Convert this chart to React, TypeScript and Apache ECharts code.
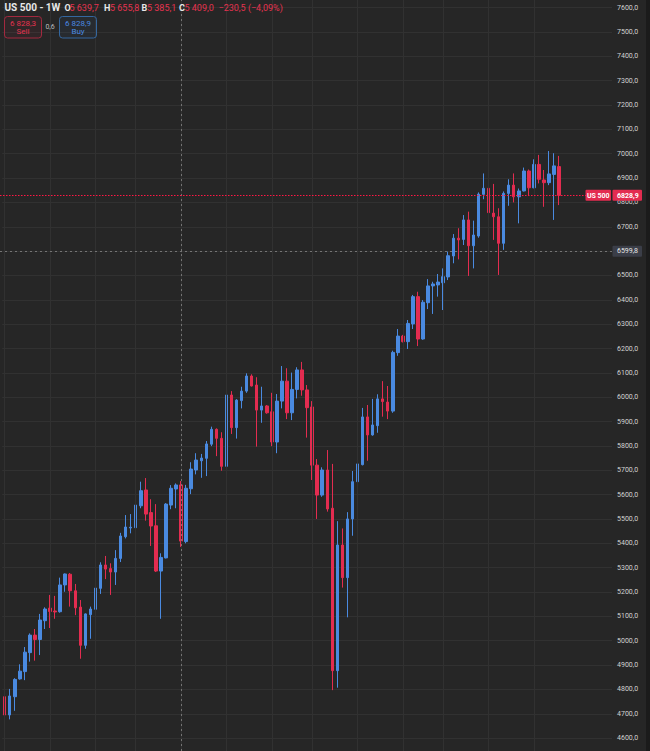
import React, { useEffect, useRef } from "react";
import * as echarts from "echarts";

// Weekly OHLC (US 500, 1W)
const opens = [
  4770, 4695, 4770, 4843, 4873, 4951, 5023, 5005, 5082,
  5134, 5122, 5119, 5229, 5273, 5205, 5138, 4981, 5107, 5129,
  5215, 5311, 5296, 5282, 5338, 5427, 5463, 5464, 5554, 5619,
  5526, 5472, 5286, 5340, 5557, 5623, 5639.7, 5407, 5624, 5701,
  5739, 5749, 5807, 5868, 5831, 5716, 6009, 5875, 5986, 6025,
  6087, 6050, 5947, 5964, 5940, 5816, 5984, 6066, 5936, 6032,
  6112, 6030, 5960, 5721, 5598, 5701, 5544, 4877, 5393, 5259,
  5500, 5653, 5723, 5919, 5845, 5883, 5993, 5980, 5943, 6183,
  6251, 6228, 6301, 6413, 6239, 6388, 6457, 6461, 6470, 6494,
  6580, 6653, 6648, 6728, 6622, 6662, 6833, 6858, 6756, 6741,
  6632, 6837, 6871, 6823, 6847, 6929, 6860, 6956, 6892, 6881,
  6915, 6947,
];
const closes = [
  4695, 4773, 4841, 4875, 4953, 5023, 5005, 5085, 5130,
  5120, 5118, 5229, 5274, 5205, 5135, 4981, 5110, 5130, 5216,
  5311, 5294, 5282, 5338, 5430, 5467, 5466, 5557, 5616, 5520,
  5471, 5286, 5342, 5561, 5626, 5639.5, 5409.0, 5626, 5705, 5742,
  5750, 5808, 5868, 5831, 5716, 6009, 5875, 5988, 6025, 6087,
  6046, 5947, 5964, 5936, 5816, 5984, 6066, 5936, 6032, 6112,
  6030, 5957, 5721, 5598, 5701, 5541, 4877, 5393, 5259, 5500,
  5653, 5726, 5919, 5845, 5886, 5993, 5982, 5943, 6184, 6251,
  6228, 6303, 6413, 6239, 6390, 6457, 6465, 6473, 6495, 6581,
  6653, 6646, 6728, 6622, 6666, 6834, 6858, 6758, 6741, 6632,
  6837, 6871, 6823, 6847, 6929, 6860, 6956, 6895, 6881, 6917,
  6950, 6828.9,
];
const lows = [
  4661, 4677, 4712, 4840, 4838, 4914, 4918, 4941, 5048,
  5052, 5090, 5115, 5201, 5140, 5105, 4926, 4967, 5008, 5125,
  5192, 5253, 5188, 5229, 5323, 5420, 5441, 5443, 5544, 5493,
  5389, 5282, 5090, 5338, 5540, 5544, 5385.1, 5400, 5602, 5683,
  5669, 5676, 5799, 5758, 5698, 5693, 5849, 5830, 5954, 6018,
  6044, 5797, 5895, 5932, 5799, 5770, 5954, 5910, 5906, 5995,
  6006, 5834, 5660, 5500, 5591, 5530, 4797, 4807, 5218, 5096,
  5431, 5575, 5720, 5739, 5842, 5854, 5920, 5910, 5936, 6170,
  6225, 6198, 6280, 6210, 6236, 6362, 6342, 6413, 6358, 6481,
  6550, 6566, 6625, 6498, 6529, 6655, 6813, 6625, 6646, 6502,
  6605, 6786, 6800, 6714, 6845, 6826, 6858, 6878, 6782, 6871,
  6728, 6789,
];
const highs = [
  4781, 4802, 4846, 4903, 4974, 5030, 5048, 5110, 5137,
  5188, 5184, 5259, 5276, 5278, 5233, 5167, 5112, 5140, 5236,
  5322, 5348, 5318, 5372, 5443, 5516, 5520, 5568, 5653, 5668,
  5581, 5561, 5359, 5565, 5639, 5646, 5655.8, 5640, 5733, 5770,
  5767, 5820, 5879, 5872, 5856, 6012, 6025, 5992, 6043, 6098,
  6094, 6082, 6043, 5968, 6018, 6013, 6128, 6119, 6101, 6123,
  6145, 6050, 5984, 5746, 5712, 5783, 5726, 5491, 5461, 5528,
  5697, 5738, 5956, 5968, 5993, 6012, 6066, 6046, 6191, 6280,
  6256, 6317, 6420, 6433, 6399, 6485, 6474, 6506, 6529, 6598,
  6670, 6694, 6748, 6762, 6725, 6841, 6919, 6878, 6876, 6776,
  6845, 6895, 6919, 6857, 6943, 6935, 6977, 6995, 6933, 7011,
  7002, 6991,
];
const emptyWeeksRight = 10;
const gridWeeks = [0, 9, 18, 26, 35, 44, 53, 61, 70, 79, 87, 96, 105];
const hoveredWeek = 35;
const crosshairPrice = 6599.8;
const bidPrice = 6828.3;
const askPrice = 6828.9;
const symbolName = "US 500";
const title = "US 500 - 1W";
const priceMin = 4600;
const priceMax = 7600;
const priceStep = 100;

const BG = "#262626";
const GRID = "#313131";
const UP = "#4a8ae0";
const DOWN = "#e32c50";
const TXT = "#d2d2d2";
const CROSS = "#747474";
const FONT = "Roboto, 'Noto Sans', sans-serif";

const fmt = (v: number, group = true) => {
  const s = Math.abs(v).toFixed(1);
  const [i, d] = s.split(".");
  const g = group ? i.replace(/\B(?=(\d{3})+(?!\d))/g, " ") : i;
  return (v < 0 ? "−" : "") + g + "," + d;
};

export default function App() {
  const ref = useRef<HTMLDivElement>(null);
  useEffect(() => {
    document.body.style.margin = "0";
    document.body.style.background = BG;
    if (!ref.current) return;
    const chart = echarts.init(ref.current, undefined, { renderer: "svg" });

    const total = opens.length + emptyWeeksRight;
    const weeks = Array.from({ length: total }, (_, i) => String(i));
    const candles: any[] = opens.map((o, i) => [o, closes[i], lows[i], highs[i]]);
    for (let k = 0; k < emptyWeeksRight; k++) candles.push("-");
    const lastPrice = closes[closes.length - 1];

    const hiddenX = {
      type: "category",
      data: weeks,
      boundaryGap: true,
      axisLine: { show: false },
      axisTick: { show: false },
      axisLabel: { show: false },
      splitLine: { show: false },
    };

    const lineSeries = (xi: number, z: number, lineStyle: any, data: any[]) => ({
      type: "line",
      xAxisIndex: xi,
      yAxisIndex: xi,
      data: [],
      z,
      silent: true,
      markLine: {
        silent: true,
        symbol: "none",
        label: { show: false },
        emphasis: { disabled: true },
        lineStyle,
        data,
      },
    });

    chart.setOption({
      animation: false,
      backgroundColor: BG,
      grid: [
        { left: 2.18, right: 37.98, top: 7.6, bottom: 12.9 },
        { left: 2.18, right: 37.98, top: 0, bottom: 0 },
      ],
      xAxis: [
        { ...hiddenX, gridIndex: 0 },
        { ...hiddenX, gridIndex: 1 },
      ],
      yAxis: [
        {
          type: "value",
          gridIndex: 0,
          position: "right",
          min: priceMin,
          max: priceMax,
          interval: priceStep,
          axisLine: { show: false },
          axisTick: { show: false },
          splitLine: { show: true, lineStyle: { color: GRID, width: 1 } },
          axisLabel: {
            color: TXT,
            fontSize: 7,
            fontFamily: FONT,
            margin: 5,
            formatter: (v: number) => fmt(v, false),
          },
        },
        { type: "value", gridIndex: 1, min: 0, max: 1, show: false, splitLine: { show: false } },
      ],
      series: [
        lineSeries(1, 1, { color: GRID, width: 1, type: "solid" }, gridWeeks.map((w) => ({ xAxis: String(w) }))),
        {
          type: "candlestick",
          xAxisIndex: 0,
          yAxisIndex: 0,
          data: candles,
          barWidth: 3,
          z: 3,
          itemStyle: {
            color: UP,
            color0: DOWN,
            borderColor: UP,
            borderColor0: DOWN,
            borderWidth: 1,
          },
        },
        lineSeries(1, 5, { color: CROSS, width: 1, type: [2, 3] }, [{ xAxis: String(hoveredWeek) }]),
      ],
    });

    const yLast = chart.convertToPixel({ yAxisIndex: 0 }, lastPrice) as number;
    const yCross = chart.convertToPixel({ yAxisIndex: 0 }, crosshairPrice) as number;
    const snap = (v: number) => Math.round(v) + 0.5;

    const o = opens[hoveredWeek], h = highs[hoveredWeek], l = lows[hoveredWeek], c = closes[hoveredWeek];
    const chg = c - closes[hoveredWeek - 1];
    const pct = (chg / closes[hoveredWeek - 1]) * 100;
    const pctStr = (pct < 0 ? "−" : "") + Math.abs(pct).toFixed(2).replace(".", ",");
    const red = "#e5324f";
    const txt = (x: number, y: number, text: string, fill: string, font: string, align = "left") => ({
      type: "text",
      x,
      y,
      z: 100,
      style: { text, fill, font, textAlign: align, textVerticalAlign: "middle", align, verticalAlign: "middle" },
    });
    const hf = `9px ${FONT}`;
    const hb = `bold 9px ${FONT}`;

    chart.setOption({
      graphic: [
        { type: "rect", z: 90, shape: { x: 646, y: 0, width: 4, height: 751 }, style: { fill: "#1b1b1b" } },
        {
          type: "line", z: 60, silent: true,
          shape: { x1: 0, y1: snap(yCross), x2: 612, y2: snap(yCross) },
          style: { stroke: CROSS, lineWidth: 1, lineDash: [2, 3] },
        },
        {
          type: "line", z: 61, silent: true,
          shape: { x1: 0, y1: snap(yLast), x2: 586, y2: snap(yLast) },
          style: { stroke: "#ff1744", lineWidth: 1.2, lineDash: [1.5, 1.5] },
        },
        txt(4.5, 7.5, title, "#e8e8e8", `bold 10px ${FONT}`),
        txt(64.5, 7.5, "O", "#e8e8e8", hb),
        txt(69.5, 7.5, fmt(o), red, hf),
        txt(104, 7.5, "H", "#e8e8e8", hb),
        txt(110, 7.5, fmt(h), red, hf),
        txt(141.5, 7.5, "B", "#e8e8e8", hb),
        txt(147, 7.5, fmt(l), red, hf),
        txt(179, 7.5, "C", "#e8e8e8", hb),
        txt(184.5, 7.5, fmt(c), red, hf),
        txt(218.5, 7.5, `${fmt(chg)} (${pctStr}%)`, red, hf),
        {
          type: "rect", z: 100,
          shape: { x: 4.5, y: 16.5, width: 37, height: 21.5, r: 3 },
          style: { fill: "rgba(227,44,80,0.06)", stroke: "#a3293f", lineWidth: 1 },
        },
        txt(23, 23, fmt(bidPrice), red, `8px ${FONT}`, "center"),
        txt(23, 31.5, "Sell", red, `8px ${FONT}`, "center"),
        txt(50, 27, fmt(askPrice - bidPrice), "#bdbdbd", `7px ${FONT}`, "center"),
        {
          type: "rect", z: 100,
          shape: { x: 59.5, y: 16.5, width: 37, height: 21.5, r: 3 },
          style: { fill: "rgba(74,138,224,0.06)", stroke: "#34679f", lineWidth: 1 },
        },
        txt(78, 23, fmt(askPrice), UP, `8px ${FONT}`, "center"),
        txt(78, 31.5, "Buy", UP, `8px ${FONT}`, "center"),
        {
          type: "rect", z: 100,
          shape: { x: 585.5, y: yLast - 5.5, width: 25.5, height: 11, r: 1 },
          style: { fill: DOWN },
        },
        txt(598.25, yLast + 0.3, symbolName, "#ffffff", `bold 7px ${FONT}`, "center"),
        {
          type: "rect", z: 100,
          shape: { x: 612.5, y: yLast - 5.5, width: 29.5, height: 11, r: 1 },
          style: { fill: DOWN },
        },
        txt(617, yLast + 0.3, fmt(lastPrice, false), "#ffffff", `bold 7px ${FONT}`),
        {
          type: "rect", z: 100,
          shape: { x: 612.5, y: yCross - 5.5, width: 29.5, height: 11, r: 1 },
          style: { fill: "#3b3e48" },
        },
        txt(617, yCross + 0.3, fmt(crosshairPrice, false), "#e6e6e6", `7px ${FONT}`),
      ],
    });

    return () => chart.dispose();
  }, []);
  return <div ref={ref} style={{ width: 650, height: 751 }} />;
}
